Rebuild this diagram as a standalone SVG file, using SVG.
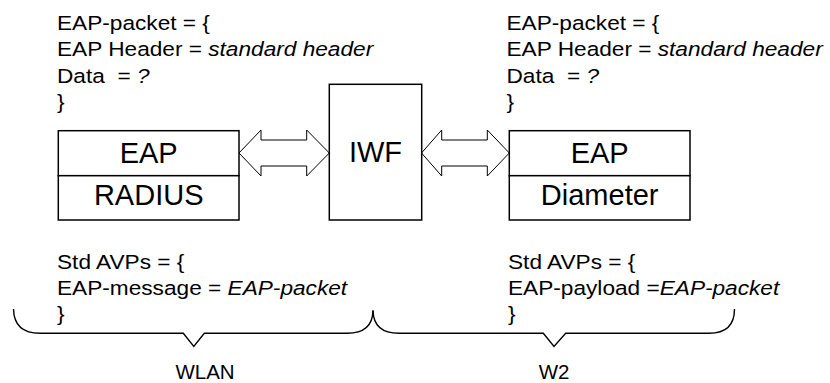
<svg xmlns="http://www.w3.org/2000/svg" width="830" height="383" viewBox="0 0 830 383">
  <style>
    .box { fill: #fff; stroke: #000; stroke-width: 1.5; }
    .arrow { fill: #fff; stroke: #000; stroke-width: 1; stroke-linejoin: miter; }
    .brace { fill: none; stroke: #000; stroke-width: 1.4; }
    .lbl { font-family: "Liberation Sans", Arial, sans-serif; font-size: 29px; fill: #000; text-anchor: middle; }
    .note { font-family: "Liberation Sans", Arial, sans-serif; font-size: 20.5px; fill: #000; }
    .it { font-style: italic; }
  </style>
  <rect width="830" height="383" fill="#fff"/>

  <!-- connectors: double-headed block arrows and the underside braces -->
  <g id="connectors">
    <polygon class="arrow" points="239,153 261,130 261,140 306.7,140 306.7,130 329.3,153 306.7,176 306.7,166 261,166 261,176"/>
    <polygon class="arrow" points="421.5,153 441.7,130 441.7,140 487.3,140 487.3,130 509.3,153 487.3,176 487.3,166 441.7,166 441.7,176"/>
    <path class="brace" d="M13.5,309 Q14,333.3 40,333.3 L183.3,333.3 L193.8,346.5 L204.3,333.3 L347,333.3 Q372.5,333.3 373,310.5"/>
    <path class="brace" d="M373,310.5 Q373.5,333.3 399,333.3 L543.3,333.3 L554,346.5 L565.7,333.3 L709,333.3 Q734.5,333.3 734.5,309"/>
  </g>

  <!-- WLAN side stack -->
  <g id="node-wlan">
    <rect class="box" x="58.3" y="130.7" width="180.7" height="45"/>
    <rect class="box" x="58.3" y="175.7" width="180.7" height="44.3"/>
    <text class="lbl" x="148.7" y="163.3">EAP</text>
    <text class="lbl" x="148.7" y="205.3">RADIUS</text>
  </g>

  <!-- interworking function -->
  <g id="node-iwf">
    <rect class="box" x="329.3" y="84.3" width="92.4" height="135.7"/>
    <text class="lbl" x="375.5" y="162.3">IWF</text>
  </g>

  <!-- W2 side stack -->
  <g id="node-w2">
    <rect class="box" x="509.3" y="130.7" width="180.7" height="45"/>
    <rect class="box" x="509.3" y="175.7" width="180.7" height="44.3"/>
    <text class="lbl" x="599.7" y="163.3">EAP</text>
    <text class="lbl" x="599.7" y="205.3">Diameter</text>
  </g>

  <!-- packet definitions -->
  <g id="note-top-left" transform="translate(57 0) scale(1.105 1)">
    <text class="note" x="0" y="30">EAP-packet = {</text>
    <text class="note" x="0" y="56.5">EAP Header = <tspan class="it">standard header</tspan></text>
    <text class="note" x="0" y="83" xml:space="preserve">Data  = <tspan class="it">?</tspan></text>
    <text class="note" x="0" y="109.5">}</text>
  </g>
  <g id="note-top-right" transform="translate(506.5 0) scale(1.105 1)">
    <text class="note" x="0" y="30">EAP-packet = {</text>
    <text class="note" x="0" y="56.5">EAP Header = <tspan class="it">standard header</tspan></text>
    <text class="note" x="0" y="83" xml:space="preserve">Data  = <tspan class="it">?</tspan></text>
    <text class="note" x="0" y="109.5">}</text>
  </g>
  <g id="note-bottom-left" transform="translate(57 0) scale(1.105 1)">
    <text class="note" x="0" y="269.5">Std AVPs = {</text>
    <text class="note" x="0" y="295.5">EAP-message = <tspan class="it">EAP-packet</tspan></text>
    <text class="note" x="0" y="321.5">}</text>
  </g>
  <g id="note-bottom-right" transform="translate(508 0) scale(1.105 1)">
    <text class="note" x="0" y="269.5">Std AVPs = {</text>
    <text class="note" x="0" y="295.5">EAP-payload =<tspan class="it">EAP-packet</tspan></text>
    <text class="note" x="0" y="321.5">}</text>
  </g>

  <!-- domain labels -->
  <g id="label-wlan">
    <text class="note" x="205" y="378.5" text-anchor="middle">WLAN</text>
  </g>
  <g id="label-w2">
    <text class="note" x="554" y="378.5" text-anchor="middle">W2</text>
  </g>
</svg>
